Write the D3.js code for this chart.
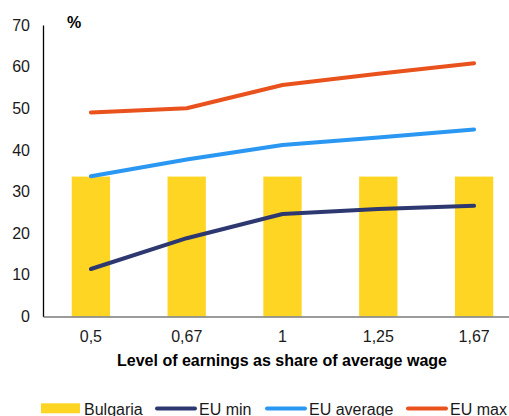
<!DOCTYPE html>
<html>
<head>
<meta charset="utf-8">
<script src="https://cdn.jsdelivr.net/npm/d3@7"></script>
<style>
  html, body { margin: 0; padding: 0; background: #fff; }
  svg { display: block; font-family: "Liberation Sans", Arial, sans-serif; }
</style>
</head>
<body>
<svg id="chart" width="509" height="416"></svg>
<script>
const categories = ["0,5", "0,67", "1", "1,25", "1,67"];
const bulgaria = [33.6, 33.6, 33.6, 33.6, 33.6];
const euMin = [11.4, 18.8, 24.6, 25.8, 26.6];
const euAverage = [33.7, 37.7, 41.2, 43.0, 44.9];
const euMax = [49.0, 50.0, 55.6, 58.3, 60.8];
const yTicks = [0, 10, 20, 30, 40, 50, 60, 70];

const colors = { bulgaria: "#FFD524", min: "#2E3870", avg: "#2A98F2", max: "#E9521C" };

const svg = d3.select("#chart");
const mLeft = 43, mRight = 522, mTop = 25, mBottom = 316.5;
const fs = 16;

const x = d3.scaleBand().domain(categories).range([mLeft, mRight]).paddingInner(0).paddingOuter(0);
const y = d3.scaleLinear().domain([0, 70]).range([mBottom, mTop]);

// bars
const barW = x.bandwidth() * 0.4;
svg.append("g").selectAll("rect").data(categories).join("rect")
  .attr("x", d => x(d) + x.bandwidth() / 2 - barW / 2)
  .attr("y", (d, i) => y(bulgaria[i]))
  .attr("width", barW)
  .attr("height", (d, i) => y(0) - y(bulgaria[i]))
  .attr("fill", colors.bulgaria);

// y axis
const yAxis = d3.axisLeft(y).tickValues(yTicks).tickSize(0).tickPadding(13);
const gy = svg.append("g").attr("transform", `translate(${mLeft},0)`).call(yAxis);
gy.select(".domain").attr("stroke", "#000").attr("stroke-width", 1.3);
gy.selectAll("text").attr("font-size", fs).attr("fill", "#1a1a1a")
  .attr("font-family", "Liberation Sans, Arial, sans-serif");

// x axis
const xAxis = d3.axisBottom(x).tickSize(0).tickPadding(14);
const gx = svg.append("g").attr("transform", `translate(0,${mBottom})`).call(xAxis);
gx.select(".domain").attr("stroke", "#7a7a7a").attr("stroke-width", 1.5);
gx.selectAll("text").attr("font-size", fs).attr("fill", "#1a1a1a")
  .attr("font-family", "Liberation Sans, Arial, sans-serif");

// lines
const cx = d => x(d) + x.bandwidth() / 2;
const line = d3.line().x(d => cx(d.c)).y(d => y(d.v));
[[euMin, colors.min], [euAverage, colors.avg], [euMax, colors.max]].forEach(([vals, col]) => {
  svg.append("path")
    .datum(categories.map((c, i) => ({ c, v: vals[i] })))
    .attr("d", line)
    .attr("fill", "none")
    .attr("stroke", col)
    .attr("stroke-width", 4)
    .attr("stroke-linecap", "round")
    .attr("stroke-linejoin", "round");
});

// % label
svg.append("text").attr("x", 67).attr("y", 28).attr("font-size", fs).attr("font-weight", "bold")
  .attr("fill", "#000").text("%");

// x axis title
svg.append("text").attr("x", 282).attr("y", 366).attr("text-anchor", "middle")
  .attr("font-size", fs).attr("font-weight", "bold").attr("fill", "#000")
  .text("Level of earnings as share of average wage");

// legend
const ly = 408.5;
const leg = svg.append("g");
leg.append("rect").attr("x", 41).attr("y", 403.3).attr("width", 39).attr("height", 10).attr("fill", colors.bulgaria);
leg.append("text").attr("x", 84).attr("y", 415).attr("font-size", fs).attr("fill", "#1a1a1a").text("Bulgaria");
const legLines = [
  { x1: 157, x2: 195, col: colors.min, tx: 199, label: "EU min" },
  { x1: 267, x2: 305, col: colors.avg, tx: 309, label: "EU average" },
  { x1: 408, x2: 446, col: colors.max, tx: 450, label: "EU max" }
];
legLines.forEach(l => {
  leg.append("line").attr("x1", l.x1).attr("x2", l.x2).attr("y1", ly).attr("y2", ly)
    .attr("stroke", l.col).attr("stroke-width", 4).attr("stroke-linecap", "round");
  leg.append("text").attr("x", l.tx).attr("y", 415).attr("font-size", fs).attr("fill", "#1a1a1a").text(l.label);
});
</script>
</body>
</html>
